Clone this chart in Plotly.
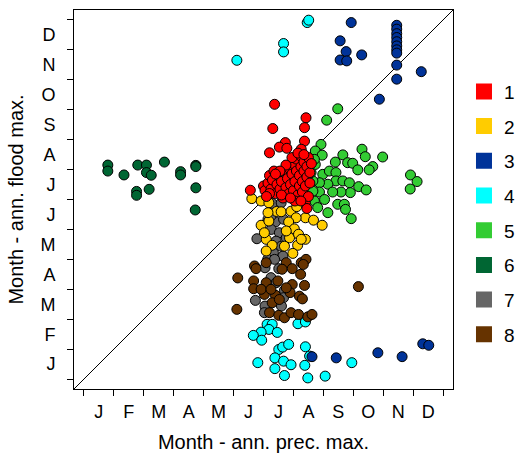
import plotly.graph_objects as go

MONTHS = ["J", "F", "M", "A", "M", "J", "J", "A", "S", "O", "N", "D"]
GROUPS = ["1", "2", "3", "4", "5", "6", "7", "8"]
COLORS = ["#FF0000", "#FFCC00", "#003399", "#00FFFF", "#33CC33", "#006633", "#666666", "#663300"]

# Cluster 1 (red)
c1_x = [6.37, 7.42, 6.31, 7.37, 7.37, 6.73, 6.53, 6.78, 6.20, 7.26, 5.56,
        6.00, 6.05, 6.15, 6.20, 6.25, 6.30, 6.35, 6.40, 6.45, 6.50, 6.55, 6.60, 6.65, 6.70,
        6.75, 6.80, 6.85, 6.85, 6.90, 6.95, 7.00, 7.00, 7.05, 7.10, 7.10, 7.15, 7.20, 7.20,
        7.25, 7.25, 7.30, 7.30, 7.35, 7.35, 7.40, 7.40, 7.45, 7.45, 7.50, 7.50, 7.55, 7.55,
        7.60, 7.45, 6.95, 6.75, 6.55, 6.40, 6.20, 6.10, 6.60, 7.05, 7.25, 6.90, 7.15, 7.35]
c1_y = [9.18, 8.73, 8.37, 8.40, 7.95, 7.90, 7.75, 7.71, 7.56, 7.68, 6.31,
        6.45, 6.30, 6.55, 6.80, 6.35, 6.65, 6.95, 6.20, 6.50, 6.80, 6.35, 6.60, 6.05, 6.90,
        6.40, 6.70, 7.05, 6.20, 6.50, 6.85, 7.20, 6.30, 6.60, 6.95, 7.35, 6.15, 6.45, 6.80,
        7.10, 7.45, 6.25, 6.60, 6.95, 7.25, 5.90, 6.45, 6.75, 7.10, 7.40, 6.10, 6.55, 6.90,
        7.20, 5.70, 7.40, 7.15, 6.95, 6.85, 6.20, 6.10, 6.15, 5.95, 5.95, 6.05, 7.55, 7.50]

# Cluster 2 (yellow)
c2_x = [5.61, 5.92, 6.44, 6.59, 6.92, 7.11, 7.40, 7.67, 7.96, 7.09, 5.92, 6.18, 6.84, 7.03,
        6.09, 6.29, 6.87, 7.17, 7.40, 7.14, 6.98, 6.09, 6.18, 6.15, 6.76, 7.26, 6.03, 6.70]
c2_y = [6.03, 5.95, 5.60, 5.59, 5.61, 5.76, 5.39, 5.31, 5.14, 5.39, 5.14, 5.28, 5.25, 5.02,
        4.67, 4.47, 4.72, 4.84, 4.67, 4.47, 4.20, 4.28, 5.89, 5.56, 4.95, 4.67, 4.89, 4.44]

# Cluster 3 (navy)
c3_x = [8.93, 8.56, 8.76, 9.28, 8.56, 8.78, 10.45, 10.45, 10.45, 10.45, 10.45, 10.45, 10.45,
        10.45, 10.45, 10.45, 11.27, 9.87, 7.62, 8.43, 9.82, 10.63, 11.32, 11.52]
c3_y = [11.91, 11.30, 10.94, 10.83, 10.66, 10.63, 11.82, 11.69, 11.54, 11.41, 11.27, 11.13,
        11.00, 10.89, 10.49, 10.02, 10.27, 9.35, 0.75, 0.71, 0.88, 0.75, 1.18, 1.13]

# Cluster 4 (cyan)
c4_x = [5.11, 6.67, 6.67, 7.46, 7.51, 6.12, 6.29, 6.18, 5.92, 5.66, 5.94, 6.46, 7.15, 7.40,
        6.51, 6.64, 6.84, 7.40, 6.38, 6.67, 6.92, 6.38, 6.70, 5.81, 7.38, 7.48, 8.06, 8.95, 7.54]
c4_y = [10.65, 11.21, 10.93, 11.91, 11.99, 1.83, 1.83, 1.66, 1.57, 1.46, 1.30, 1.56, 1.85, 1.91,
        0.99, 1.07, 1.16, 1.08, 0.71, 0.60, 0.48, 0.35, 0.12, 0.55, 0.46, 0.04, 0.10, 0.55, 0.77]

# Cluster 5 (green)
c5_x = [8.48, 8.11, 7.92, 7.73, 7.96, 8.65, 8.40, 8.81, 8.98, 9.29, 9.40, 9.98, 9.65, 9.53,
        9.15, 10.91, 11.13, 10.90, 7.73, 7.98, 8.20, 8.42, 8.42, 8.15, 7.87, 8.65, 8.87, 9.18,
        9.43, 8.90, 8.59, 8.31, 7.87, 7.70, 8.04, 7.81, 8.15, 8.48, 8.70, 8.74, 8.93, 7.65,
        7.65, 7.59, 7.70]
c5_y = [9.03, 8.65, 7.84, 7.62, 7.48, 7.49, 7.25, 7.23, 7.21, 7.68, 7.43, 7.42, 7.10, 6.99,
        6.99, 6.82, 6.60, 6.35, 7.17, 6.84, 6.95, 6.90, 6.62, 6.51, 6.56, 6.62, 6.56, 6.43,
        6.32, 6.23, 6.25, 6.25, 6.25, 5.95, 6.00, 5.73, 5.56, 5.84, 5.84, 5.67, 5.36, 6.28,
        6.62, 6.90, 7.34]

# Cluster 6 (dark green)
c6_x = [0.80, 0.80, 1.34, 1.80, 2.09, 2.09, 2.25, 2.69, 3.23, 3.23, 3.74, 3.74, 3.74, 3.72,
        1.76, 1.76, 2.18]
c6_y = [7.15, 6.95, 6.82, 7.15, 7.15, 6.90, 6.81, 7.25, 6.93, 6.82, 7.14, 7.10, 6.39, 5.65,
        6.27, 6.14, 6.34]

# Cluster 7 (gray)
c7_x = [6.29, 6.59, 6.15, 6.40, 6.67, 6.26, 6.53, 6.76, 5.78, 6.42, 6.59, 6.33, 6.65, 6.14,
        6.37, 6.05, 6.51, 6.25, 6.42, 6.70, 5.73, 6.67, 6.05, 6.03, 6.60, 6.25]
c7_y = [5.87, 5.89, 5.34, 5.25, 5.34, 5.00, 4.89, 4.72, 4.69, 4.61, 4.44, 4.22, 4.11, 4.00,
        4.00, 3.72, 3.69, 3.39, 3.22, 2.97, 2.63, 2.72, 2.44, 2.22, 2.44, 5.45]

# Cluster 8 (brown)
c8_x = [5.14, 5.11, 9.17, 5.70, 5.75, 6.09, 6.76, 6.96, 7.26, 7.42, 7.33, 6.62, 5.67, 6.09,
        6.48, 6.96, 7.24, 7.37, 5.67, 6.03, 6.40, 6.89, 7.20, 7.30, 6.29, 6.53, 6.20, 6.51,
        6.70, 6.92, 7.17, 7.48, 7.62, 5.92, 6.76, 6.25]
c8_y = [3.38, 2.33, 3.09, 3.78, 3.69, 3.89, 3.89, 3.69, 3.89, 4.00, 3.83, 3.67, 3.28, 3.22,
        3.28, 3.16, 3.50, 3.13, 3.02, 2.83, 2.80, 2.89, 2.77, 2.68, 2.55, 2.66, 2.22, 2.13,
        2.05, 2.22, 2.16, 2.08, 2.16, 3.00, 3.05, 3.00]

AX_RANGE = [-0.33, 12.33]

xs = [c1_x, c2_x, c3_x, c4_x, c5_x, c6_x, c7_x, c8_x]
ys = [c1_y, c2_y, c3_y, c4_y, c5_y, c6_y, c7_y, c8_y]
draw_order = [3, 2, 5, 4, 6, 1, 7, 0]

fig = go.Figure()

for i in draw_order:
    fig.add_trace(go.Scatter(
        x=xs[i], y=ys[i], mode="markers", showlegend=False,
        marker=dict(size=10, color=COLORS[i], line=dict(color="black", width=1)),
        hoverinfo="skip",
    ))

# legend entries (plain squares)
for i, g in enumerate(GROUPS):
    fig.add_trace(go.Scatter(
        x=[None], y=[None], mode="markers", name=g, legendgroup=g,
        marker=dict(symbol="square", size=16, color=COLORS[i], line=dict(width=0)),
    ))

fig.add_shape(type="line", xref="x", yref="y",
              x0=AX_RANGE[0], y0=AX_RANGE[0], x1=AX_RANGE[1], y1=AX_RANGE[1],
              line=dict(color="black", width=1), layer="below")

tickpos = [m + 0.5 for m in range(12)]
bounds = list(range(13))

axis_common = dict(
    range=AX_RANGE, showgrid=False, zeroline=False,
    showline=True, mirror=True, linecolor="black", linewidth=1,
    tickmode="array", tickvals=tickpos, ticktext=MONTHS, ticks="",
    tickfont=dict(size=18, color="black"),
    minor=dict(tickmode="array", tickvals=bounds, ticks="outside", ticklen=6,
               tickcolor="black", tickwidth=1, showgrid=False),
    fixedrange=True,
)

fig.update_layout(
    width=517, height=453,
    margin=dict(l=74, r=64, t=10, b=64, autoexpand=False),
    paper_bgcolor="white", plot_bgcolor="white",
    font=dict(family="Liberation Sans, Arial, sans-serif", color="black"),
    xaxis=dict(**axis_common, ticklabelstandoff=6,
               title=dict(text="Month - ann. prec. max.", font=dict(size=20), standoff=14)),
    yaxis=dict(**axis_common, ticklabelstandoff=14,
               title=dict(text="Month - ann. flood max.", font=dict(size=20), standoff=11)),
    legend=dict(x=1.029, xanchor="left", y=0.835, yanchor="top",
                font=dict(size=19), tracegroupgap=7, itemwidth=30,
                bgcolor="rgba(0,0,0,0)"),
    showlegend=True,
)

fig.write_html("out.html", config={"displayModeBar": False},
               post_script="document.body.style.margin='0px';document.body.style.overflow='hidden';")
